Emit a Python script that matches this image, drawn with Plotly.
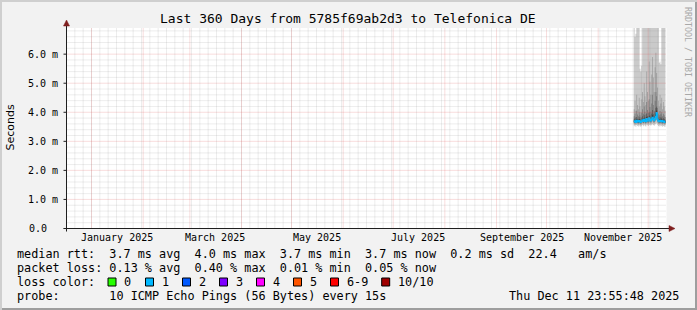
import plotly.graph_objects as go
import pandas as pd

W, H = 697, 310

# ---------------- data (ms) ----------------
start_time = "2025-11-22 09:00"
step = "12h"
ping1 = [3.52,3.55,3.50,3.56,3.53,3.51,3.55,3.52,3.50,3.54,3.56,3.52,3.57,3.54,3.51,3.58,3.55,3.53,3.57,3.56,3.54,3.57,3.59,3.56,3.54,3.58,3.60,3.62,3.57,3.53,3.51,3.55,3.52,3.54,3.50,3.53,3.51,3.50]
ping2 = [3.58,3.61,3.57,3.62,3.59,3.57,3.61,3.58,3.56,3.60,3.62,3.59,3.64,3.60,3.58,3.65,3.61,3.59,3.66,3.63,3.60,3.65,3.68,3.63,3.61,3.66,3.70,3.74,3.64,3.60,3.58,3.61,3.59,3.60,3.57,3.60,3.58,3.56]
ping3 = [3.62,3.65,3.61,3.66,3.63,3.61,3.65,3.62,3.60,3.64,3.67,3.63,3.69,3.65,3.62,3.71,3.66,3.64,3.72,3.68,3.65,3.70,3.74,3.68,3.66,3.72,3.76,3.84,3.70,3.65,3.62,3.66,3.63,3.65,3.61,3.64,3.62,3.60]
ping4 = [3.65,3.68,3.64,3.69,3.66,3.64,3.68,3.65,3.63,3.67,3.70,3.66,3.72,3.68,3.65,3.75,3.69,3.67,3.76,3.71,3.68,3.74,3.78,3.72,3.69,3.76,3.81,3.92,3.73,3.68,3.65,3.69,3.66,3.68,3.64,3.67,3.65,3.63]
ping5 = [3.67,3.69,3.65,3.71,3.68,3.66,3.70,3.67,3.65,3.69,3.72,3.68,3.74,3.70,3.67,3.77,3.71,3.69,3.79,3.73,3.70,3.76,3.81,3.74,3.71,3.78,3.84,3.96,3.75,3.69,3.67,3.71,3.68,3.70,3.66,3.69,3.67,3.65]
ping6 = [3.71,3.73,3.69,3.76,3.72,3.70,3.75,3.71,3.69,3.74,3.77,3.72,3.79,3.75,3.71,3.84,3.76,3.74,3.86,3.79,3.75,3.82,3.90,3.80,3.76,3.86,3.95,4.06,3.80,3.74,3.71,3.76,3.72,3.75,3.70,3.73,3.71,3.69]
ping7 = [3.76,3.80,3.74,3.84,3.78,3.75,3.83,3.77,3.73,3.81,3.86,3.79,3.90,3.83,3.77,3.96,3.86,3.81,4.00,3.90,3.83,3.95,4.08,3.93,3.85,4.02,4.15,4.20,3.92,3.81,3.77,3.84,3.79,3.82,3.75,3.80,3.77,3.74]
ping8 = [3.86,3.95,3.84,4.05,3.92,3.86,4.00,3.90,3.83,3.98,4.10,3.95,4.20,4.02,3.92,4.35,4.08,3.98,4.45,4.18,4.02,4.30,4.60,4.25,4.05,4.40,4.70,4.55,4.15,3.96,3.90,4.04,3.93,4.00,3.86,3.95,3.90,3.84]
ping9 = [4.10,4.40,4.05,4.60,4.25,4.10,4.50,4.20,4.00,4.45,4.70,4.35,5.00,4.55,4.25,5.40,4.70,4.40,5.75,5.05,4.60,5.30,5.90,5.20,4.70,5.55,6.05,5.35,4.85,4.40,4.20,4.60,4.30,4.50,4.10,4.35,4.20,4.05]
ping10 = [9.5,6.60,6.70,8.8,10.2,12.5,9.1,5.50,5.40,5.60,8.3,11.0,9.7,13.2,10.5,8.9,12.1,9.4,15.0,11.3,9.9,10.7,13.8,12.2,9.3,14.1,16.5,11.7,10.4,9.2,5.70,5.75,5.65,8.6,9.8,11.5,10.1,9.0]
median = [3.68,3.70,3.66,3.72,3.69,3.67,3.71,3.68,3.66,3.70,3.73,3.69,3.75,3.71,3.68,3.78,3.72,3.70,3.80,3.74,3.71,3.77,3.82,3.75,3.72,3.79,3.85,3.98,3.76,3.70,3.68,3.72,3.69,3.71,3.67,3.70,3.68,3.66]

x_start = "2024-12-16 23:55:48"
x_end = "2025-12-11 23:55:48"
y_max = 6.9
ytick_vals = [0, 1, 2, 3, 4, 5, 6]
ytick_text = ["0.0", "1.0 m", "2.0 m", "3.0 m", "4.0 m", "5.0 m", "6.0 m"]
xlabel_dates = ["2025-01-16", "2025-03-16", "2025-05-16", "2025-07-16", "2025-09-16", "2025-11-16"]
xlabel_text = ["January 2025", "March 2025", "May 2025", "July 2025", "September 2025", "November 2025"]

title = "Last 360 Days from 5785f69ab2d3 to Telefonica DE"
legend_rows = [
    "median rtt:  3.7 ms avg  4.0 ms max  3.7 ms min  3.7 ms now  0.2 ms sd  22.4   am/s",
    "packet loss: 0.13 % avg  0.40 % max  0.01 % min  0.05 % now",
    "loss color:",
    "probe:       10 ICMP Echo Pings (56 Bytes) every 15s",
]
stamp = "Thu Dec 11 23:55:48 2025"
loss_labels = ["0", "1", "2", "3", "4", "5", "6-9", "10/10"]
loss_colors = ["#26ff00", "#00b8ff", "#0059ff", "#7e00ff", "#ff00ff", "#ff5500", "#ff0000", "#a00000"]

# ---------------- layout geometry ----------------
PL, PR, PT, PB = 66.5, 666.5, 28.0, 228.5
def px(x): return x / W
def py(y): return 1 - y / H
MONO = "DejaVu Sans Mono"
LEG_SIZE = 11.8
def nb(s): return s.replace(" ", "\u00a0")

n = len(median)
times = pd.date_range(start_time, periods=n + 1, freq=step)
def ext(a): return list(a) + [a[-1]]

fig = go.Figure()
pairs = [(ping1, ping10, "#cacaca"), (ping2, ping9, "#a4a4a4"), (ping3, ping8, "#7e7e7e"),
         (ping4, ping7, "#585858"), (ping5, ping6, "#323232")]
for lo, hi, col in pairs:
    fig.add_trace(go.Scatter(x=times, y=ext(lo), mode="lines", line=dict(width=0, shape="hv"),
                             hoverinfo="skip", showlegend=False))
    fig.add_trace(go.Scatter(x=times, y=ext(hi), mode="lines", line=dict(width=0, shape="hv"),
                             fill="tonexty", fillcolor=col, hoverinfo="skip", showlegend=False))
fig.add_trace(go.Scatter(x=times, y=ext(median), mode="lines", line=dict(width=1.5, color="#00b8ff", shape="hv"),
                         hoverinfo="skip", showlegend=False))

shapes = []
minor_col = "rgba(143,143,143,0.32)"
major_col = "rgba(222,79,79,0.38)"
# vertical grid
for d in pd.date_range("2024-12-17", x_end, freq="5D"):
    shapes.append(dict(type="line", xref="x", yref="y", x0=d, x1=d, y0=0, y1=y_max,
                       line=dict(color=minor_col, width=1, dash="1px,1px"), layer="above"))
for d in pd.date_range("2025-01-01", x_end, freq="MS"):
    shapes.append(dict(type="line", xref="x", yref="y", x0=d, x1=d, y0=0, y1=y_max,
                       line=dict(color=major_col, width=1, dash="1px,1px"), layer="above"))
# horizontal grid
for k in range(1, 35):
    v = k * 0.2
    if k % 5 == 0:
        continue
    shapes.append(dict(type="line", xref="x", yref="y", x0=x_start, x1=x_end, y0=v, y1=v,
                       line=dict(color=minor_col, width=1, dash="1px,1px"), layer="above"))
for v in ytick_vals[1:]:
    shapes.append(dict(type="line", xref="x", yref="y", x0=x_start, x1=x_end, y0=v, y1=v,
                       line=dict(color=major_col, width=1, dash="1px,1px"), layer="above"))
# y ticks
for v in ytick_vals:
    shapes.append(dict(type="line", xref="paper", yref="y", x0=px(PL - 3), x1=px(PL), y0=v, y1=v,
                       line=dict(color="#1f1f1f", width=1), layer="above"))
# axes
axis_col = "#1f1f1f"
shapes.append(dict(type="line", xref="paper", yref="paper", x0=px(PL), x1=px(PL), y0=py(PB + 3), y1=py(23),
                   line=dict(color=axis_col, width=1), layer="above"))
shapes.append(dict(type="line", xref="paper", yref="paper", x0=px(PL - 3), x1=px(671), y0=py(PB), y1=py(PB),
                   line=dict(color=axis_col, width=1), layer="above"))
arrow = "#7f1f1f"
shapes.append(dict(type="path", xref="paper", yref="paper",
                   path=f"M {px(PL-3)} {py(26)} L {px(PL+3)} {py(26)} L {px(PL)} {py(20)} Z",
                   fillcolor=arrow, line=dict(color=arrow, width=0.5), layer="above"))
shapes.append(dict(type="path", xref="paper", yref="paper",
                   path=f"M {px(669)} {py(PB-3)} L {px(669)} {py(PB+3)} L {px(675)} {py(PB)} Z",
                   fillcolor=arrow, line=dict(color=arrow, width=0.5), layer="above"))
# frame shading
shapes.append(dict(type="rect", xref="paper", yref="paper", x0=0, x1=1, y0=py(2), y1=1,
                   fillcolor="#cfcfcf", line=dict(width=0), layer="below"))
shapes.append(dict(type="rect", xref="paper", yref="paper", x0=0, x1=px(2), y0=0, y1=1,
                   fillcolor="#cfcfcf", line=dict(width=0), layer="below"))
shapes.append(dict(type="rect", xref="paper", yref="paper", x0=px(W - 2), x1=1, y0=0, y1=py(2),
                   fillcolor="#9e9e9e", line=dict(width=0), layer="below"))
shapes.append(dict(type="rect", xref="paper", yref="paper", x0=px(2), x1=1, y0=0, y1=py(H - 2),
                   fillcolor="#9e9e9e", line=dict(width=0), layer="below"))

# loss colour boxes
box_x = [108, 145.5, 182.5, 219.5, 256.5, 293.5, 330.5, 381.7]
ROW_Y = [254, 268.3, 282, 296.3]
annotations = []
for bx, lab, col in zip(box_x, loss_labels, loss_colors):
    shapes.append(dict(type="rect", xref="paper", yref="paper", x0=px(bx), x1=px(bx + 8),
                       y0=py(ROW_Y[2] + 4), y1=py(ROW_Y[2] - 4), fillcolor=col,
                       line=dict(color="black", width=1), layer="above"))
    annotations.append(dict(x=px(bx + 14), y=py(ROW_Y[2]), xref="paper", yref="paper", text=nb(lab),
                            showarrow=False, xanchor="left", yanchor="middle",
                            font=dict(family=MONO, size=LEG_SIZE, color="black")))

# title
annotations.append(dict(x=px(347.5), y=py(19), xref="paper", yref="paper", text=nb(title), showarrow=False,
                        xanchor="center", yanchor="middle", font=dict(family=MONO, size=13, color="black")))
# watermark
annotations.append(dict(x=px(688), y=py(5), xref="paper", yref="paper", text=nb("RRDTOOL / TOBI OETIKER"),
                        showarrow=False, textangle=90, xanchor="center", yanchor="top",
                        font=dict(family=MONO, size=8.3, color="#a8a8a8")))
# y title
annotations.append(dict(x=px(10.5), y=py(128), xref="paper", yref="paper", text="Seconds", showarrow=False,
                        textangle=-90, xanchor="center", yanchor="middle",
                        font=dict(family="DejaVu Sans", size=11, color="black")))
# y tick labels
for v, t in zip(ytick_vals, ytick_text):
    xr = 59.5 if t.endswith("m") else 48.5
    annotations.append(dict(x=px(xr), y=v, xref="paper", yref="y", text=nb(t), showarrow=False,
                            xanchor="right", yanchor="middle", font=dict(family=MONO, size=10, color="black")))
# x tick labels
for d, t in zip(xlabel_dates, xlabel_text):
    annotations.append(dict(x=d, y=py(237.5), xref="x", yref="paper", text=nb(t), showarrow=False,
                            xanchor="center", yanchor="middle", font=dict(family=MONO, size=10, color="black")))
# legend rows
for r, txt in enumerate(legend_rows):
    annotations.append(dict(x=px(14.5), y=py(ROW_Y[r]), xref="paper", yref="paper", text=nb(txt),
                            showarrow=False, xanchor="left", yanchor="middle",
                            font=dict(family=MONO, size=LEG_SIZE, color="black")))
annotations.append(dict(x=px(680.5), y=py(ROW_Y[3]), xref="paper", yref="paper", text=nb(stamp),
                        showarrow=False, xanchor="right", yanchor="middle",
                        font=dict(family=MONO, size=LEG_SIZE, color="black")))

fig.update_layout(
    width=W, height=H, margin=dict(l=0, r=0, t=0, b=0, pad=0),
    paper_bgcolor="#f2f2f2", plot_bgcolor="white",
    xaxis=dict(type="date", range=[x_start, x_end], domain=[px(PL), px(PR)], showgrid=False,
               showticklabels=False, showline=False, zeroline=False, ticks=""),
    yaxis=dict(range=[0, y_max], domain=[py(PB), py(PT)], showgrid=False, showticklabels=False,
               showline=False, zeroline=False, ticks=""),
    shapes=shapes, annotations=annotations, showlegend=False,
)
fig.write_html("out.html")
